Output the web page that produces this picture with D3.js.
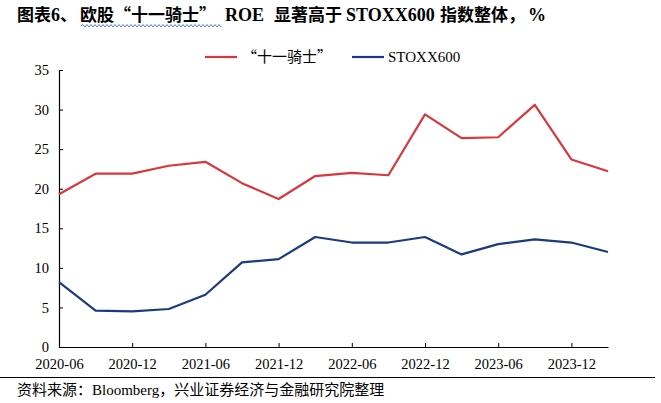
<!DOCTYPE html>
<html><head><meta charset="utf-8">
<script src="https://cdn.jsdelivr.net/npm/d3@7"></script>
<style>body{margin:0;background:#fff;}svg{display:block;}</style>
</head><body>
<svg id="c" width="661" height="403"></svg>
<script>
const dates = ["2020-06","2020-09","2020-12","2021-03","2021-06","2021-09","2021-12","2022-03","2022-06","2022-09","2022-12","2023-03","2023-06","2023-09","2023-12","2024-03"];
const knights = [19.3,21.9,21.9,22.9,23.4,20.7,18.7,21.6,22.0,21.7,29.4,26.4,26.5,30.6,23.7,22.2];
const stoxx = [8.2,4.6,4.5,4.8,6.6,10.7,11.1,13.9,13.2,13.2,13.9,11.7,13.0,13.6,13.2,12.0];
const xTickLabels = ["2020-06","2020-12","2021-06","2021-12","2022-06","2022-12","2023-06","2023-12"];
const yTicks = [0,5,10,15,20,25,30,35];
const seriesNames = ["十一骑士","STOXX600"];
const colors = ["#d8383c","#1b3a80"];

const serif = "'Liberation Serif','Noto Sans CJK SC',serif";
const cjk = "'Noto Sans CJK SC',sans-serif";
const svg = d3.select("#c");

// title as segments
const title = svg.append("text").attr("y",21).attr("font-weight","bold").attr("fill","#000");
const tseg = [
  {t:"图表", f:cjk, s:17, x:17},
  {t:"6", f:serif, s:18},
  {t:"、", f:cjk, s:17},
  {t:"欧股“十一骑士”", f:cjk, s:17, x:80},
  {t:"ROE", f:serif, s:18, x:225},
  {t:"显著高于", f:cjk, s:17, x:274},
  {t:"STOXX600", f:serif, s:18, x:346},
  {t:"指数整体，", f:cjk, s:17, x:440},
  {t:"%", f:serif, s:18, x:528}
];
tseg.forEach(s=>{
  const ts = title.append("tspan").attr("font-family",s.f).attr("font-size",s.s).text(s.t);
  if (s.x!==undefined) ts.attr("x",s.x);
});
// wavy underline
{
  let p = "M81,26"; let up=true;
  for (let x=83; x<=222; x+=2){ p += "L"+x+","+(up?24.5:27); up=!up; }
  svg.append("path").attr("d",p).attr("fill","none").attr("stroke","#4a6fd0").attr("stroke-width",0.9);
}

const x = d3.scalePoint().domain(dates).range([59,608]);
const y = d3.scaleLinear().domain([0,35]).range([347,70]);

// y axis
const yAxis = d3.axisLeft(y).tickValues(yTicks).tickSize(-4).tickPadding(10).tickFormat(d3.format("d"));
const gy = svg.append("g").attr("transform","translate(59,0)").call(yAxis);
gy.select(".domain").attr("stroke","#000").attr("stroke-width",1.2);
gy.selectAll(".tick line").attr("stroke","#000");
gy.selectAll("text").attr("font-family",serif).attr("font-size",14.5).attr("fill","#000");

// x axis
const xAxis = d3.axisBottom(x).tickValues(xTickLabels).tickSize(-4).tickPadding(12).tickSizeOuter(0);
const gx = svg.append("g").attr("transform","translate(0,347)").call(xAxis);
gx.select(".domain").attr("stroke","#000").attr("stroke-width",1.2);
gx.selectAll(".tick line").attr("stroke","#000");
gx.selectAll("text").attr("font-family",serif).attr("font-size",14.5).attr("fill","#000");

// lines
const line = d3.line().x((d,i)=>x(dates[i])).y(d=>y(d));
[knights, stoxx].forEach((s,k)=>{
  svg.append("path").datum(s).attr("d",line).attr("fill","none")
    .attr("stroke",colors[k]).attr("stroke-width",2.2).attr("stroke-linejoin","round");
});

// legend
const lg = [{x:205,tx:242},{x:352,tx:388}];
lg.forEach((l,k)=>{
  svg.append("line").attr("x1",l.x).attr("x2",l.x+32).attr("y1",57).attr("y2",57)
    .attr("stroke",colors[k]).attr("stroke-width",2.2);
  const t = svg.append("text").attr("x",l.tx).attr("y",62).attr("font-size",15).attr("fill","#000");
  if (k===0){
    t.append("tspan").attr("font-family",cjk).text("“"+seriesNames[k]+"”");
  } else {
    t.attr("font-family",serif).text(seriesNames[k]);
  }
});

// footer rule & source
svg.append("line").attr("x1",0).attr("x2",655).attr("y1",377.5).attr("y2",377.5).attr("stroke","#000").attr("stroke-width",1);
const ft = svg.append("text").attr("x",17).attr("y",395).attr("font-size",15).attr("fill","#000");
ft.append("tspan").attr("font-family",cjk).text("资料来源：");
ft.append("tspan").attr("font-family",serif).text("Bloomberg");
ft.append("tspan").attr("font-family",cjk).text("，兴业证券经济与金融研究院整理");
</script>
</body></html>
